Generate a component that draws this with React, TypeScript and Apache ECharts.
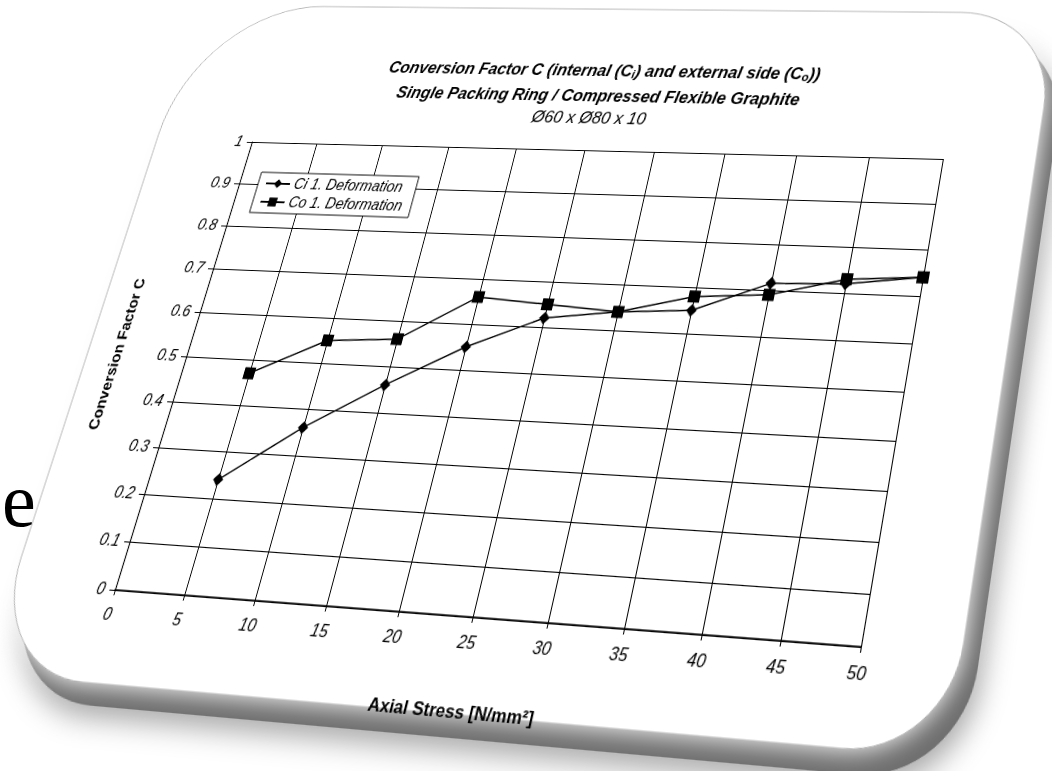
import React, { useEffect, useRef } from "react";
import * as echarts from "echarts";

// ---------------- data ----------------
const xValues = [5, 10, 15, 20, 25, 30, 35, 40, 45, 50];
const ciValues = [0.24, 0.36, 0.46, 0.55, 0.62, 0.64, 0.65, 0.715, 0.72, 0.74];
const coValues = [0.47, 0.55, 0.56, 0.66, 0.65, 0.64, 0.68, 0.69, 0.73, 0.74];
const seriesNames = ["Ci 1. Deformation", "Co 1. Deformation"];
const xAxisMin = 0;
const xAxisMax = 50;
const xAxisStep = 5;
const yAxisMin = 0;
const yAxisMax = 1;
const yAxisStep = 0.1;
const titleLine1 = "{b|Conversion Factor C (internal (C}{s|i}{b|) and external side (C}{s|o}{b|))}";
const titleLine2 = "Single Packing Ring / Compressed Flexible Graphite";
const titleLine3 = "Ø60 x Ø80 x 10";
const xAxisName = "Axial Stress [N/mm²]";
const yAxisName = "Conversion Factor C";

// ---------------- layout (unwarped local frame) ----------------
const W = 1080;
const H = 800;
const L = 140;
const T = 180;
const PW = 760;
const PH = 460;
// where the plot corners land on the page: BL, BR, TR, TL
const pageQuad: [number, number][] = [
  [115, 590],
  [861, 647],
  [943, 159],
  [252, 142],
];
const FONT = '"Liberation Sans", Arial, Helvetica, sans-serif';

function solveLinear(A: number[][], b: number[]): number[] {
  const n = b.length;
  const M = A.map((r, i) => [...r, b[i]]);
  for (let c = 0; c < n; c++) {
    let p = c;
    for (let r = c + 1; r < n; r++) if (Math.abs(M[r][c]) > Math.abs(M[p][c])) p = r;
    const tmp = M[c];
    M[c] = M[p];
    M[p] = tmp;
    for (let r = 0; r < n; r++) {
      if (r === c) continue;
      const f = M[r][c] / M[c][c];
      for (let k = c; k <= n; k++) M[r][k] -= f * M[c][k];
    }
  }
  return M.map((r, i) => r[n] / r[i]);
}

function homographyCss(src: [number, number][], dst: [number, number][]): string {
  const A: number[][] = [];
  const b: number[] = [];
  for (let i = 0; i < 4; i++) {
    const [x, y] = src[i];
    const [X, Y] = dst[i];
    A.push([x, y, 1, 0, 0, 0, -X * x, -X * y]);
    b.push(X);
    A.push([0, 0, 0, x, y, 1, -Y * x, -Y * y]);
    b.push(Y);
  }
  const h = solveLinear(A, b);
  return `matrix3d(${h[0]},${h[3]},0,${h[6]},${h[1]},${h[4]},0,${h[7]},0,0,1,0,${h[2]},${h[5]},0,1)`;
}

const localQuad: [number, number][] = [
  [L, T + PH],
  [L + PW, T + PH],
  [L + PW, T],
  [L, T],
];
const warp = homographyCss(localQuad, pageQuad);

export default function App() {
  const ref = useRef<HTMLDivElement>(null);

  useEffect(() => {
    if (!ref.current) return;
    const chart = echarts.init(ref.current, undefined, { renderer: "svg", width: W, height: H });
    const cx = L + 376;
    const option: any = {
      animation: false,
      backgroundColor: "transparent",
      textStyle: { fontFamily: FONT, color: "#000" },
      graphic: [
        {
          type: "rect",
          z: -20,
          silent: true,
          shape: { x: 42, y: 44, width: 968, height: 702, r: [150, 100, 95, 110] },
          style: {
            fill: "#6e6e6e",
            shadowBlur: 26,
            shadowColor: "rgba(0,0,0,0.35)",
            shadowOffsetX: 4,
            shadowOffsetY: 10,
          },
        },
        {
          type: "rect",
          z: -19,
          silent: true,
          shape: { x: 26, y: 24, width: 968, height: 702, r: [150, 100, 95, 110] },
          style: {
            fill: "#ffffff",
            stroke: "#b0b0b0",
            lineWidth: 1,
            shadowBlur: 22,
            shadowColor: "#ffffff",
          },
        },
      ],
      title: [
        {
          text: titleLine1,
          left: cx,
          top: T - 88 - 11,
          textAlign: "center",
          padding: 0,
          textStyle: {
            rich: {
              b: { fontFamily: FONT, fontSize: 18, fontWeight: "bold", fontStyle: "italic", color: "#000", lineHeight: 22 },
              s: { fontFamily: FONT, fontSize: 12, fontWeight: "bold", fontStyle: "italic", color: "#000", lineHeight: 22, verticalAlign: "bottom" },
            },
          },
        },
        {
          text: titleLine2,
          left: cx,
          top: T - 60 - 11,
          textAlign: "center",
          padding: 0,
          textStyle: { fontFamily: FONT, fontSize: 18, fontWeight: "bold", fontStyle: "italic", color: "#000", lineHeight: 22 },
        },
        {
          text: titleLine3,
          left: cx,
          top: T - 36 - 11,
          textAlign: "center",
          padding: 0,
          textStyle: { fontFamily: FONT, fontSize: 18, fontWeight: "normal", fontStyle: "italic", color: "#000", lineHeight: 22 },
        },
      ],
      legend: {
        data: seriesNames,
        orient: "vertical",
        left: L + 22,
        top: T + 33,
        backgroundColor: "#fff",
        borderColor: "#000",
        borderWidth: 1,
        borderRadius: 0,
        padding: [4, 10, 4, 8],
        itemGap: 4,
        itemWidth: 28,
        itemHeight: 12,
        selectedMode: false,
        textStyle: { fontFamily: FONT, fontSize: 16, fontStyle: "italic", color: "#000" },
      },
      grid: { left: L, top: T, width: PW, height: PH, containLabel: false },
      xAxis: {
        type: "value",
        min: xAxisMin,
        max: xAxisMax,
        interval: xAxisStep,
        name: xAxisName,
        nameLocation: "middle",
        nameGap: 75,
        nameTextStyle: { fontFamily: FONT, fontSize: 17, fontWeight: "bold", color: "#000" },
        axisLine: { show: true, onZero: false, lineStyle: { color: "#000", width: 1.6 } },
        axisTick: { show: true, length: 5, lineStyle: { color: "#000" } },
        axisLabel: { fontFamily: FONT, fontSize: 16, fontStyle: "italic", color: "#000", margin: 15 },
        splitLine: { show: true, lineStyle: { color: "#000", width: 1 } },
      },
      yAxis: {
        type: "value",
        min: yAxisMin,
        max: yAxisMax,
        interval: yAxisStep,
        name: yAxisName,
        nameLocation: "middle",
        nameGap: 72,
        nameTextStyle: { fontFamily: FONT, fontSize: 16, fontWeight: "bold", color: "#000" },
        axisLine: { show: true, lineStyle: { color: "#000", width: 1.2 } },
        axisTick: { show: true, length: 6, lineStyle: { color: "#000" } },
        axisLabel: { fontFamily: FONT, fontSize: 16, fontStyle: "italic", color: "#000", margin: 11 },
        splitLine: { show: true, lineStyle: { color: "#000", width: 1 } },
      },
      series: [
        {
          name: seriesNames[0],
          type: "line",
          data: xValues.map((x, i) => [x, ciValues[i]]),
          symbol: "diamond",
          symbolSize: [11, 13],
          lineStyle: { color: "#000", width: 1.5 },
          itemStyle: { color: "#000" },
          z: 3,
        },
        {
          name: seriesNames[1],
          type: "line",
          data: xValues.map((x, i) => [x, coValues[i]]),
          symbol: "rect",
          symbolSize: 12,
          lineStyle: { color: "#000", width: 1.5 },
          itemStyle: { color: "#000" },
          z: 4,
        },
      ],
    };
    chart.setOption(option);
    return () => chart.dispose();
  }, []);

  return (
    <div
      style={{
        position: "fixed",
        left: 0,
        top: 0,
        width: 1052,
        height: 771,
        overflow: "hidden",
        background: "#fff",
      }}
    >
      <div
        ref={ref}
        style={{
          position: "absolute",
          left: 0,
          top: 0,
          width: W,
          height: H,
          transformOrigin: "0 0",
          transform: warp,
        }}
      />
      <div
        style={{
          position: "absolute",
          left: 2,
          top: 462,
          fontFamily: '"Liberation Serif", "Times New Roman", serif',
          fontSize: 76,
          lineHeight: "76px",
          color: "#000",
        }}
      >
        e
      </div>
    </div>
  );
}
